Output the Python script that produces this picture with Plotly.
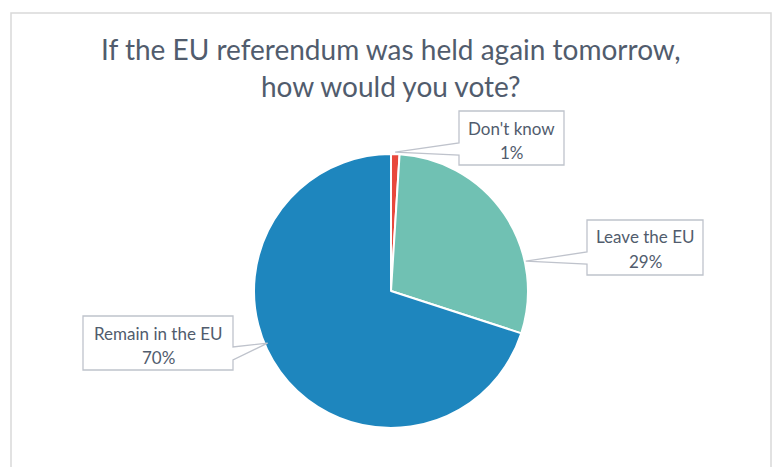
import math
import plotly.graph_objects as go

# Survey answers, in clockwise order from 12 o'clock
categories = ["Don't know", "Leave the EU", "Remain in the EU"]
shares = [1, 29, 70]
slice_colors = ["#E8483C", "#70C1B3", "#1E86BE"]

title_lines = ["If the EU referendum was held again tomorrow,", "how would you vote?"]

W, H = 776, 467
CX, CY, R = 391, 291, 137          # pie centre and radius in pixels
TEXT_COLOR = "#515C6D"
FONT = "Lato"


def px(x):
    return x / W


def py(y):
    return 1 - y / H


# Callout boxes: (x0, y0, x1, y1), side the pointer leaves from,
# pointer base span along that side, and pointer tip angle (deg clockwise from top)
callouts = [
    dict(box=(459, 111, 564, 165), side="left", span=(143, 155), tip_deg=1.7, tip_r=139),
    dict(box=(587, 220, 703, 275), side="left", span=(252, 264), tip_deg=77.5, tip_r=138),
    dict(box=(83, 316, 233, 370), side="right", span=(347, 360), tip_deg=247.1, tip_r=134),
]

fig = go.Figure(
    go.Pie(
        labels=categories,
        values=shares,
        sort=False,
        direction="clockwise",
        rotation=0,
        marker=dict(colors=slice_colors, line=dict(color="white", width=2)),
        textinfo="none",
        hoverinfo="skip",
        showlegend=False,
        domain=dict(x=[px(CX - R), px(CX + R)], y=[py(CY + R), py(CY - R)]),
    )
)

shapes = []
# chart frame (open at the bottom edge of the page)
shapes.append(dict(
    type="path", xref="paper", yref="paper",
    path=f"M {px(11)},{py(H + 5)} L {px(11)},{py(13)} L {px(771)},{py(13)} L {px(771)},{py(H + 5)}",
    line=dict(color="#D9D9D9", width=1.5),
))

annotations = []

# two-line chart title
for txt, yy in zip(title_lines, (49, 86)):
    annotations.append(dict(
        x=px(391), y=py(yy), xref="paper", yref="paper",
        text=txt, showarrow=False, xanchor="center", yanchor="middle",
        font=dict(family=FONT, size=28, color=TEXT_COLOR),
    ))

total = sum(shares)
for name, val, c in zip(categories, shares, callouts):
    x0, y0, x1, y1 = c["box"]
    a0, a1 = c["span"]
    ang = math.radians(c["tip_deg"])
    tx = CX + c["tip_r"] * math.sin(ang)
    ty = CY - c["tip_r"] * math.cos(ang)
    if c["side"] == "left":
        pts = [(x0, y0), (x1, y0), (x1, y1), (x0, y1), (x0, a1), (tx, ty), (x0, a0)]
    else:
        pts = [(x0, y0), (x1, y0), (x1, a0), (tx, ty), (x1, a1), (x1, y1), (x0, y1)]
    path = "M " + " L ".join(f"{px(x)},{py(y)}" for x, y in pts) + " Z"
    shapes.append(dict(
        type="path", xref="paper", yref="paper", path=path,
        fillcolor="white", line=dict(color="#BFC3CC", width=1.3),
    ))
    xc = (x0 + x1) / 2
    pct = f"{round(val / total * 100)}%"
    for txt, yy in ((name, y0 + 17), (pct, y0 + 41.5)):
        annotations.append(dict(
            x=px(xc), y=py(yy), xref="paper", yref="paper",
            text=txt, showarrow=False, xanchor="center", yanchor="middle",
            font=dict(family=FONT, size=17, color=TEXT_COLOR),
        ))

fig.update_layout(
    width=W, height=H,
    margin=dict(l=0, r=0, t=0, b=0),
    paper_bgcolor="white",
    plot_bgcolor="white",
    shapes=shapes,
    annotations=annotations,
)

fig.write_html("out.html")
